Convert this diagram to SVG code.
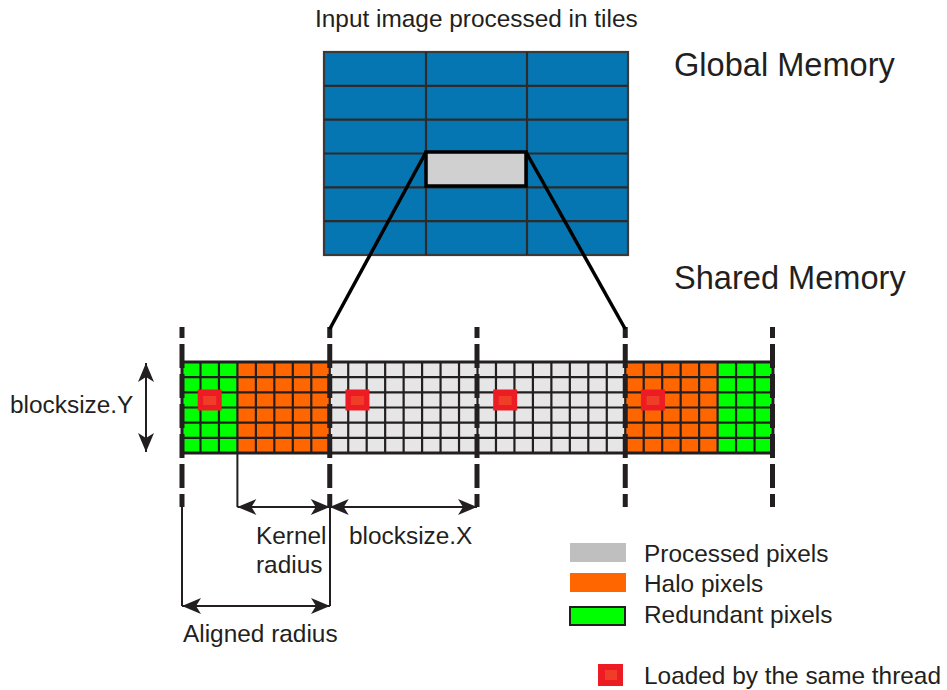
<svg xmlns="http://www.w3.org/2000/svg" width="947" height="690" viewBox="0 0 947 690">
  <defs>
    <style>
      text { font-family: "Liberation Sans", Arial, sans-serif; fill: #231f20; }
      .lbl { font-size: 24.4px; }
      .head { font-size: 32.6px; }
      .tile { fill: #0676b3; stroke: #3a3a3a; stroke-width: 2.2; }
      .tilegrid { fill: none; stroke: #2b2b2b; stroke-width: 2.2; }
      .cellgrid { fill: none; stroke: #231f20; stroke-width: 2.2; }
      .border { fill: none; stroke: #231f20; stroke-width: 3; }
      .green { fill: #00ff00; }
      .orange { fill: #ff6600; }
      .grey { fill: #e6e6e6; }
      .red { fill: #ed1c24; }
      .redcore { fill: #ef3d28; }
      .cut { stroke: #231f20; stroke-width: 5; stroke-dasharray: 24 6; stroke-dashoffset: 13; fill: none; }
      .zoom { stroke: #000; stroke-width: 3.5; fill: none; }
      .dim { stroke: #231f20; stroke-width: 2; fill: none; }
    </style>
    <marker id="ah" viewBox="-20 -9 21 18" refX="0" refY="0" markerWidth="21" markerHeight="18" markerUnits="userSpaceOnUse" orient="auto-start-reverse">
      <path d="M0,0 L-19,-8 L-14,0 L-19,8 Z" fill="#231f20"/>
    </marker>
  </defs>

  <rect width="947" height="690" fill="#fff"/>

  <!-- titles -->
  <text class="lbl" x="315" y="27">Input image processed in tiles</text>
  <text class="head" x="674" y="76">Global Memory</text>
  <text class="head" x="674" y="289">Shared Memory</text>

  <!-- input image split into 3x6 tiles -->
  <g id="global-memory">
    <rect class="tile" x="324" y="52" width="304" height="203"/>
    <path class="tilegrid" d="M426 52V255M527 52V255M324 85.8H628M324 119.7H628M324 153.5H628M324 187.3H628M324 221.2H628"/>
  </g>

  <!-- the tile currently being processed -->
  <g id="tile-highlight">
    <rect x="426" y="152" width="100" height="34" fill="#d0d0d0" stroke="#000" stroke-width="3.5"/>
  </g>

  <!-- shared memory buffer: 32 x 6 cells -->
  <g id="shared-memory">
    <rect class="green" x="182" y="362" width="55.41" height="91"/>
    <rect class="orange" x="237.41" y="362" width="92.34" height="91"/>
    <rect class="grey" x="329.75" y="362" width="295.5" height="91"/>
    <rect class="orange" x="625.25" y="362" width="92.34" height="91"/>
    <rect class="green" x="717.59" y="362" width="55.41" height="91"/>
    <path class="cellgrid" d="M200.47 362V453M218.94 362V453M237.41 362V453M255.88 362V453M274.34 362V453M292.81 362V453M311.28 362V453M329.75 362V453M348.22 362V453M366.69 362V453M385.16 362V453M403.63 362V453M422.09 362V453M440.56 362V453M459.03 362V453M477.5 362V453M495.97 362V453M514.44 362V453M532.91 362V453M551.38 362V453M569.84 362V453M588.31 362V453M606.78 362V453M625.25 362V453M643.72 362V453M662.19 362V453M680.66 362V453M699.13 362V453M717.59 362V453M736.06 362V453M754.53 362V453M182 377.17H773M182 392.33H773M182 407.5H773M182 422.67H773M182 437.83H773"/>
    <rect class="border" x="182" y="362" width="591" height="91"/>
  </g>

  <!-- pixels loaded by one thread -->
  <g id="thread-pixels">
    <rect class="red" x="197.7" y="389.5" width="24" height="21"/>
    <rect class="redcore" x="203.2" y="396" width="13" height="9"/>
    <rect class="red" x="345.45" y="389.5" width="24" height="21"/>
    <rect class="redcore" x="350.95" y="396" width="13" height="9"/>
    <rect class="red" x="493.2" y="389.5" width="24" height="21"/>
    <rect class="redcore" x="498.7" y="396" width="13" height="9"/>
    <rect class="red" x="640.95" y="389.5" width="24" height="21"/>
    <rect class="redcore" x="646.45" y="396" width="13" height="9"/>
  </g>

  <!-- block boundaries -->
  <g id="block-boundaries">
    <path class="cut" d="M182 327V507"/>
    <path class="cut" d="M329.75 327V507"/>
    <path class="cut" d="M477 327V507"/>
    <path class="cut" d="M625.25 327V507"/>
    <path class="cut" d="M772.5 327V507"/>
  </g>

  <g id="connectors">
    <path class="zoom" d="M426 152L329.75 329"/>
    <path class="zoom" d="M526 152L625.25 329"/>
    <path class="dim" d="M146 363V452" marker-start="url(#ah)" marker-end="url(#ah)"/>
    <path class="dim" d="M237.4 453V507"/>
    <path class="dim" d="M237.4 507H329.75" marker-start="url(#ah)" marker-end="url(#ah)"/>
    <path class="dim" d="M329.75 507H477" marker-start="url(#ah)" marker-end="url(#ah)"/>
    <path class="dim" d="M182 507V606"/>
    <path class="dim" d="M330 507V606"/>
    <path class="dim" d="M182 606H330" marker-start="url(#ah)" marker-end="url(#ah)"/>
  </g>

  <!-- dimension labels -->
  <text class="lbl" x="10" y="413">blocksize.Y</text>
  <text class="lbl" x="256" y="544">Kernel</text>
  <text class="lbl" x="256" y="573">radius</text>
  <text class="lbl" x="349" y="544">blocksize.X</text>
  <text class="lbl" x="183" y="642">Aligned radius</text>

  <g id="legend">
    <rect x="570" y="543" width="56" height="19" fill="#bfbfbf"/>
    <text class="lbl" x="644" y="562">Processed pixels</text>
    <rect x="570" y="573" width="56" height="19" fill="#ff6600"/>
    <text class="lbl" x="644" y="592">Halo pixels</text>
    <rect x="570" y="607" width="55" height="18" fill="#00ff00" stroke="#231f20" stroke-width="2"/>
    <text class="lbl" x="644" y="623">Redundant pixels</text>
    <rect class="red" x="598" y="664" width="25" height="22"/>
    <rect class="redcore" x="605" y="670" width="12" height="10"/>
    <text class="lbl" x="644" y="684">Loaded by the same thread</text>
  </g>
</svg>
